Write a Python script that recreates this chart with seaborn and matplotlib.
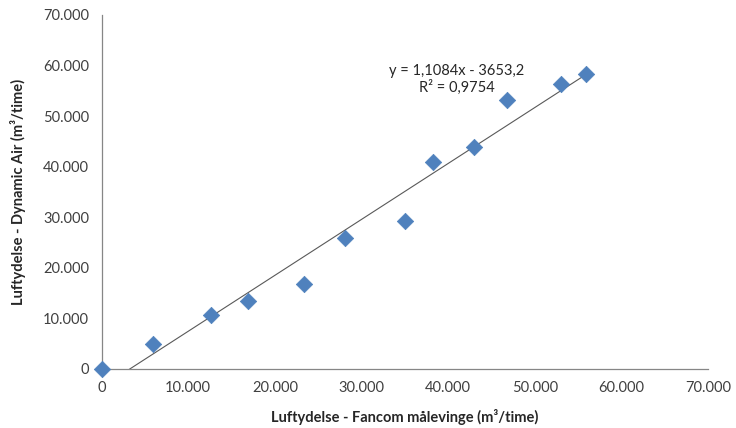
import numpy as np
import pandas as pd
import matplotlib
matplotlib.use('Agg')
import matplotlib.pyplot as plt
import seaborn as sns
from matplotlib.ticker import FuncFormatter

fancom = [0, 5900, 12600, 16900, 23400, 28100, 35000, 38300, 43000, 46800, 53000, 55900]
dynamic_air = [0, 5000, 10700, 13400, 16800, 25900, 29200, 40900, 43900, 53200, 56300, 58300]
eq_text = 'y = 1,1084x - 3653,2'
r2_text = 'R² = 0,9754'

df = pd.DataFrame({'fancom': fancom, 'dynamic_air': dynamic_air})

sns.set_style('white')
plt.rcParams['font.family'] = ['Lato', 'DejaVu Sans']

fig = plt.figure(figsize=(7.36, 4.28), dpi=100)
ax = fig.add_axes([0.138, 0.138, 0.824, 0.827])

# lineær trendlinje
slope, intercept = np.polyfit(df['fancom'], df['dynamic_air'], 1)
xs = np.array([0, df['fancom'].max()])
ax.plot(xs, slope * xs + intercept, color='#595959', lw=0.8, zorder=2)

sns.scatterplot(data=df, x='fancom', y='dynamic_air', marker='D', s=70,
                color='#4F81BD', edgecolor='#4F81BD', linewidth=0.5,
                ax=ax, zorder=3, clip_on=False)

ax.set_xlim(0, 70000)
ax.set_ylim(0, 70000)
ax.set_xticks(range(0, 70001, 10000))
ax.set_yticks(range(0, 70001, 10000))
fmt = FuncFormatter(lambda v, p: f'{int(v):,}'.replace(',', '.'))
ax.xaxis.set_major_formatter(fmt)
ax.yaxis.set_major_formatter(fmt)

for s in ['top', 'right']:
    ax.spines[s].set_visible(False)
for s in ['left', 'bottom']:
    ax.spines[s].set_color('#868686')
    ax.spines[s].set_linewidth(0.9)
ax.tick_params(axis='both', direction='out', length=5, width=0.9, color='#868686',
               labelsize=10.5, labelcolor='#404040', pad=4)

ax.set_xlabel('Luftydelse - Fancom målevinge (m³/time)', fontsize=10.5,
              fontweight='bold', color='#262626', labelpad=10)
ax.set_ylabel('Luftydelse - Dynamic Air (m³/time)', fontsize=10.5,
              fontweight='bold', color='#262626', labelpad=12)

ax.text(41000, 59000, eq_text, ha='center', va='center', fontsize=10.5, color='#262626')
ax.text(41000, 55700, r2_text, ha='center', va='center', fontsize=10.5, color='#262626')

fig.savefig('out.png', dpi=100)
